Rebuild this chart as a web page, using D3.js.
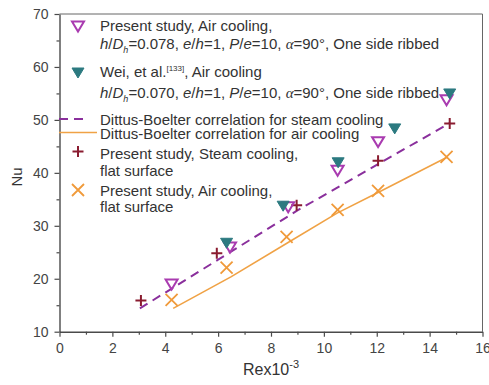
<!DOCTYPE html>
<html><head><meta charset="utf-8">
<script src="https://cdn.jsdelivr.net/npm/d3@7"></script>
<style>
body{margin:0;background:#fff}
svg{display:block;font-family:"Liberation Sans",Arial,sans-serif}
</style>
</head><body>
<svg id="chart" width="489" height="385"></svg>
<script>
// Nu vs Re x 10^-3
const ribbedRe = [4.24, 6.45, 8.65, 10.52, 12.05, 14.64];
const ribbedNu = [18.9, 25.9, 33.5, 40.4, 45.8, 53.7];
const weiRe = [6.32, 8.46, 10.54, 12.68, 14.76];
const weiNu = [26.7, 33.7, 41.9, 48.3, 54.9];
const steamFlatRe = [3.08, 5.95, 8.97, 12.05, 14.76];
const steamFlatNu = [15.9, 24.8, 33.9, 42.3, 49.3];
const airFlatRe = [4.24, 6.32, 8.59, 10.52, 12.05, 14.64];
const airFlatNu = [16.0, 22.1, 27.9, 33.0, 36.6, 43.0];
const dbSteamRe = [3.04, 6.0, 9.0, 12.0, 14.76];
const dbSteamNu = [14.4, 23.6, 32.9, 41.5, 49.4];
const dbAirRe = [4.3, 6.5, 8.6, 10.5, 12.05, 14.64];
const dbAirNu = [14.4, 20.4, 26.7, 32.4, 36.3, 42.9];
const xTicks = [0, 2, 4, 6, 8, 10, 12, 14, 16];
const xMinor = [1, 3, 5, 7, 9, 11, 13, 15];
const yTicks = [10, 20, 30, 40, 50, 60, 70];
const yMinor = [15, 25, 35, 45, 55, 65];

const C = {
  ribbed: "#a93bb0",
  wei: "#2c7a80",
  dbSteam: "#8a2f9c",
  dbAir: "#f0a245",
  steam: "#8a1c30",
  air: "#f09a3a",
  axis: "#4a4a4a",
  text: "#333"
};

const svg = d3.select("#chart");
const L = 59.5, R = 482.5, T = 14, B = 331.7;
const x = d3.scaleLinear().domain([0, 16]).range([L, R]);
const y = d3.scaleLinear().domain([10, 70]).range([B, T]);

// frame: top and right edges
svg.append("path")
  .attr("d", `M${L},${T}H${R}V${B}`)
  .attr("fill", "none").attr("stroke", "#666").attr("stroke-width", 1);

function styleAxis(g) {
  g.select(".domain").attr("stroke", C.axis).attr("stroke-width", 1.4);
  g.selectAll(".tick line").attr("stroke", C.axis).attr("stroke-width", 1.2);
  g.selectAll(".tick text").attr("fill", "#444").attr("font-size", 14)
    .attr("font-family", "Liberation Sans, Arial, sans-serif");
}

const gx = svg.append("g").attr("transform", `translate(0,${B})`)
  .call(d3.axisBottom(x).tickValues(xTicks).tickSize(5).tickPadding(6).tickSizeOuter(0));
styleAxis(gx);
const gxm = svg.append("g").attr("transform", `translate(0,${B})`)
  .call(d3.axisBottom(x).tickValues(xMinor).tickSize(3).tickFormat("").tickSizeOuter(0));
styleAxis(gxm); gxm.select(".domain").remove();

const gy = svg.append("g").attr("transform", `translate(${L},0)`)
  .call(d3.axisLeft(y).tickValues(yTicks).tickSize(5).tickPadding(6).tickSizeOuter(0));
styleAxis(gy);
const gym = svg.append("g").attr("transform", `translate(${L},0)`)
  .call(d3.axisLeft(y).tickValues(yMinor).tickSize(3).tickFormat("").tickSizeOuter(0));
styleAxis(gym); gym.select(".domain").remove();

// axis titles
svg.append("text").attr("transform", `translate(22,177) rotate(-90)`)
  .attr("text-anchor", "middle").attr("font-size", 15).attr("fill", C.text).text("Nu");
const xt = svg.append("text").attr("x", 243).attr("y", 375)
  .attr("font-size", 16).attr("fill", C.text);
xt.append("tspan").text("Rex10");
xt.append("tspan").attr("dy", -7).attr("font-size", 11).text("-3");

// marker shapes
const triPath = "M-6,-5L6,-5L0,5Z";
const plusPath = "M-5.5,0H5.5M0,-5.5V5.5";
const crossPath = "M-6,-6L6,6M-6,6L6,-6";

const zip = (a, b) => a.map((v, i) => [v, b[i]]);
const line = d3.line().x(d => x(d[0])).y(d => y(d[1]));

// correlation curves
svg.append("path").datum(zip(dbAirRe, dbAirNu)).attr("d", line)
  .attr("fill", "none").attr("stroke", C.dbAir).attr("stroke-width", 1.6);
svg.append("path").datum(zip(dbSteamRe, dbSteamNu)).attr("d", line)
  .attr("fill", "none").attr("stroke", C.dbSteam).attr("stroke-width", 2)
  .attr("stroke-dasharray", "9,6");

function markers(data, path, attrs) {
  const s = svg.append("g").selectAll("path").data(data).join("path")
    .attr("transform", d => `translate(${x(d[0])},${y(d[1])})`).attr("d", path);
  Object.entries(attrs).forEach(([k, v]) => s.attr(k, v));
}
markers(zip(airFlatRe, airFlatNu), crossPath, {fill: "none", stroke: C.air, "stroke-width": 1.8});
markers(zip(steamFlatRe, steamFlatNu), plusPath, {fill: "none", stroke: C.steam, "stroke-width": 2});
markers(zip(ribbedRe, ribbedNu), triPath, {fill: "none", stroke: C.ribbed, "stroke-width": 2});
markers(zip(weiRe, weiNu), triPath, {fill: C.wei, stroke: C.wei, "stroke-width": 1});

// legend
const lg = svg.append("g").attr("font-size", 15).attr("fill", C.text);
const tx = 100, mx = 78;
function legText(yy) { return lg.append("text").attr("x", tx).attr("y", yy); }
function paramLine(yy, ratio) {
  const t = legText(yy);
  const it = s => t.append("tspan").attr("font-style", "italic").text(s);
  const rm = s => t.append("tspan").text(s);
  it("h"); rm("/"); it("D");
  t.append("tspan").attr("dy", 4).attr("font-size", 9).attr("font-style", "italic").text("h");
  t.append("tspan").attr("dy", -4).text("=" + ratio + ", ");
  it("e"); rm("/"); it("h"); rm("=1, ");
  it("P"); rm("/"); it("e"); rm("=10, ");
  t.append("tspan").attr("font-style", "italic").attr("font-family", "Liberation Serif, serif").text("\u03b1");
  rm("=90\u00b0, One side ribbed");
}

lg.append("path").attr("transform", `translate(${mx},26.5)`).attr("d", triPath)
  .attr("fill", "none").attr("stroke", C.ribbed).attr("stroke-width", 2);
legText(30.5).text("Present study, Air cooling,");
paramLine(49, "0.078");

lg.append("path").attr("transform", `translate(${mx},73)`).attr("d", triPath)
  .attr("fill", C.wei).attr("stroke", C.wei);
const wt = legText(77);
wt.append("tspan").text("Wei, et al.");
wt.append("tspan").attr("dy", -6).attr("font-size", 8).text("[133]");
wt.append("tspan").attr("dy", 6).text(", Air cooling");
paramLine(97.5, "0.070");

lg.append("line").attr("x1", 59).attr("x2", 88).attr("y1", 119).attr("y2", 119)
  .attr("stroke", C.dbSteam).attr("stroke-width", 2).attr("stroke-dasharray", "9,6");
legText(124.5).text("Dittus-Boelter correlation for steam cooling");

lg.append("line").attr("x1", 59).attr("x2", 97).attr("y1", 132.5).attr("y2", 132.5)
  .attr("stroke", C.dbAir).attr("stroke-width", 1.6);
legText(138.5).text("Dittus-Boelter correlation for air cooling");

lg.append("path").attr("transform", `translate(${mx},151.5)`).attr("d", plusPath)
  .attr("fill", "none").attr("stroke", C.steam).attr("stroke-width", 2);
legText(158.5).text("Present study, Steam cooling,");
legText(175.5).text("flat surface");

lg.append("path").attr("transform", `translate(${mx},190)`).attr("d", crossPath)
  .attr("fill", "none").attr("stroke", C.air).attr("stroke-width", 1.8);
legText(195.5).text("Present study, Air cooling,");
legText(212).text("flat surface");
</script>
</body></html>
